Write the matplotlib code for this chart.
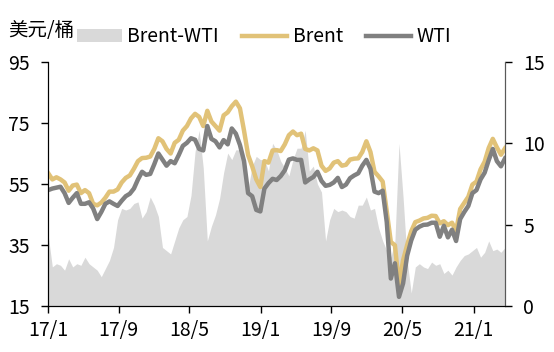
# Brent / WTI 油价与价差走势
import numpy as np
import pandas as pd
import matplotlib
matplotlib.use('Agg')
import matplotlib.pyplot as plt
from matplotlib.patches import Patch
from matplotlib.lines import Line2D

plt.rcParams['font.family'] = ['Noto Sans CJK SC', 'DejaVu Sans']

dates = pd.date_range('2017-01-02', periods=113, freq='14D')

brent = [58.5, 56.5, 57.2, 56.5, 55.5, 52.8, 54.5, 54.8, 52.0, 53.0,
         52.0, 48.5, 48.0, 48.9, 50.5, 52.5, 52.5, 53.2, 55.5, 57.0,
         57.8, 60.0, 62.5, 63.5, 63.6, 64.0, 66.5, 70.0, 69.0, 66.5,
         65.0, 68.5, 69.5, 72.5, 74.0, 76.5, 78.0, 77.0, 74.0, 79.0,
         75.5, 74.0, 72.5, 77.5, 78.5, 80.5, 82.0, 79.8, 72.5, 64.5,
         60.8, 56.5, 54.0, 62.5, 62.0, 66.0, 66.1, 65.8, 68.0, 71.0,
         72.2, 71.0, 71.5, 66.5, 66.0, 66.7, 66.0, 61.0, 59.3, 60.1,
         62.0, 62.5, 61.0, 61.3, 63.0, 63.3, 63.4, 65.5, 69.0, 65.5,
         59.0, 57.5, 55.8, 46.0, 36.0, 34.9, 22.0, 30.0, 35.0, 39.5,
         42.5, 43.0, 43.7, 43.9, 44.6, 44.5, 42.1, 42.8, 41.5, 42.3,
         39.6, 46.8, 48.8, 50.8, 54.8, 55.8, 59.8, 62.3, 66.8, 69.8,
         67.0, 64.6, 66.7]

wti = [53.0, 53.5, 53.8, 54.1, 52.0, 48.8, 50.5, 52.0, 48.5, 48.5,
       49.0, 47.0, 43.5, 45.8, 48.5, 49.3, 48.5, 47.8, 49.5, 51.0,
       51.8, 53.5, 56.5, 59.0, 58.0, 58.3, 61.5, 65.0, 63.0, 61.0,
       62.5, 61.8, 64.5, 67.5, 68.5, 70.0, 69.5, 66.5, 66.0, 74.0,
       69.8, 69.0, 67.0, 69.4, 68.0, 73.2, 71.5, 67.8, 62.5, 52.0,
       51.0, 46.5, 46.0, 53.5, 55.3, 56.7, 56.3, 57.6, 59.5, 63.0,
       63.4, 62.9, 62.9, 55.5, 56.5, 57.3, 59.0, 56.0, 54.4, 54.7,
       55.5, 57.0, 54.0, 54.8, 56.9, 57.8, 58.5, 61.0, 62.9, 60.0,
       52.5, 52.0, 52.8, 42.5, 24.0, 29.0, 18.0, 22.4, 31.5, 36.5,
       40.0, 41.0, 41.6, 41.7, 42.3, 42.3, 37.7, 41.3, 37.5, 40.0,
       36.3, 43.5, 45.8, 47.8, 52.0, 53.0, 56.5, 58.7, 62.8, 66.5,
       62.5, 60.8, 63.4]

spread = [4.3, 2.4, 2.6, 2.5, 2.2, 2.9, 2.4, 2.6, 2.5, 3.0,
          2.6, 2.4, 2.2, 1.8, 2.3, 2.8, 3.6, 5.3, 6.0, 5.9,
          6.0, 6.3, 6.4, 5.4, 5.8, 6.7, 6.2, 5.5, 3.6, 3.4,
          3.2, 4.0, 4.8, 5.3, 5.5, 6.8, 9.5, 10.8, 8.5, 4.0,
          4.9, 5.6, 6.6, 8.2, 9.4, 9.0, 9.6, 9.6, 9.0, 7.2,
          8.6, 9.2, 9.0, 9.0, 8.3, 10.0, 9.6, 8.9, 8.5, 8.0,
          9.0, 9.7, 9.7, 10.8, 8.3, 8.6, 7.5, 7.0, 4.0, 5.3,
          6.0, 5.8, 5.9, 5.8, 5.5, 5.4, 6.2, 6.2, 6.7, 5.9,
          6.0, 4.8, 4.0, 3.4, 3.0, 4.0, 10.0, 6.7, 2.8, 0.8,
          2.4, 2.6, 2.4, 2.3, 2.7, 2.5, 2.6, 2.0, 2.2, 1.9,
          2.4, 2.8, 3.1, 3.2, 3.4, 3.6, 3.0, 3.3, 4.0, 3.4,
          3.5, 3.3, 3.6]

tick_dates = pd.to_datetime(['2017-01-01', '2017-09-01', '2018-05-01', '2019-01-01',
                             '2019-09-01', '2020-05-01', '2021-01-01'])
tick_labels = ['17/1', '17/9', '18/5', '19/1', '19/9', '20/5', '21/1']

c_brent = '#E1C278'
c_wti = '#808080'
c_area = '#D9D9D9'

fig = plt.figure(figsize=(5.54, 3.52), dpi=100)
ax = fig.add_axes([0.0866, 0.1307, 0.825, 0.6932])   # 价差（右轴）
ax2 = ax.twinx()                                       # 价格（左轴）

ax.fill_between(dates, 0, spread, color=c_area, lw=0)
ax.set_ylim(0, 15)
ax.set_yticks([0, 5, 10, 15])
ax.yaxis.tick_right()

ax2.plot(dates, brent, color=c_brent, lw=3.2)
ax2.plot(dates, wti, color=c_wti, lw=3.2)
ax2.set_ylim(15, 95)
ax2.set_yticks([15, 35, 55, 75, 95])
ax2.yaxis.tick_left()

ax.set_xlim(pd.Timestamp('2017-01-01'), pd.Timestamp('2021-04-19'))
ax.set_xticks(tick_dates)
ax.set_xticklabels(tick_labels)

for a in (ax, ax2):
    a.spines['top'].set_visible(False)
    a.tick_params(labelsize=14, length=5, width=1, direction='out', pad=8)
ax.spines['right'].set_color('#595959')
ax2.spines['right'].set_color('#595959')
ax.tick_params(axis='x', pad=5)

fig.text(0.014, 0.912, '美元/桶', fontsize=14, va='center')

handles = [Patch(color=c_area, lw=0),
           Line2D([], [], color=c_brent, lw=3.2),
           Line2D([], [], color=c_wti, lw=3.2)]
fig.legend(handles, ['Brent-WTI', 'Brent', 'WTI'], ncol=3, frameon=False,
           loc='center left', bbox_to_anchor=(0.107, 0.895), fontsize=14,
           handlelength=2.3, columnspacing=1.2, handletextpad=0.3)

fig.savefig('out.png', dpi=100)
